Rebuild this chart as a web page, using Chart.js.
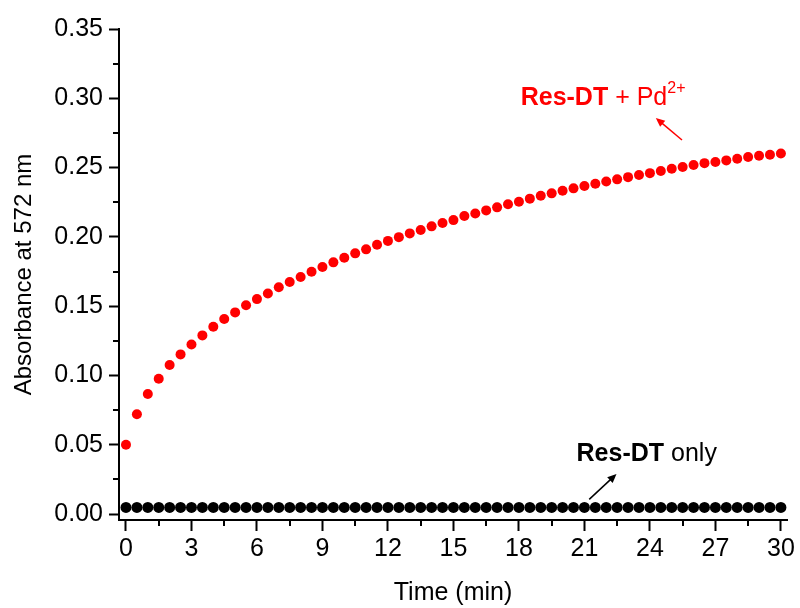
<!DOCTYPE html>
<html>
<head>
<meta charset="utf-8">
<script src="https://cdn.jsdelivr.net/npm/chart.js@4/dist/chart.umd.min.js"></script>
<style>
html,body{margin:0;padding:0;background:#fff;}
#wrap{width:800px;height:608px;position:relative;}
</style>
</head>
<body>
<div id="wrap"><canvas id="c" width="800" height="608"></canvas></div>
<script>
// ---- data ----
const timeMin = [0,0.5,1,1.5,2,2.5,3,3.5,4,4.5,5,5.5,6,6.5,7,7.5,8,8.5,9,9.5,10,10.5,11,11.5,12,12.5,13,13.5,14,14.5,15,15.5,16,16.5,17,17.5,18,18.5,19,19.5,20,20.5,21,21.5,22,22.5,23,23.5,24,24.5,25,25.5,26,26.5,27,27.5,28,28.5,29,29.5,30];
const resDtPd = [0.0500,0.0720,0.0866,0.0976,0.1075,0.1152,0.1224,0.1289,0.1351,0.1407,0.1455,0.1506,0.1551,0.1592,0.1636,0.1674,0.1710,0.1748,0.1782,0.1816,0.1849,0.1881,0.1910,0.1943,0.1971,0.1998,0.2025,0.2049,0.2076,0.2100,0.2121,0.2150,0.2169,0.2191,0.2213,0.2235,0.2254,0.2276,0.2297,0.2314,0.2333,0.2350,0.2367,0.2383,0.2400,0.2415,0.2431,0.2446,0.2460,0.2475,0.2491,0.2504,0.2518,0.2532,0.2540,0.2552,0.2564,0.2576,0.2585,0.2592,0.2602];
const resDtOnly = [0.0048,0.0048,0.0048,0.0048,0.0048,0.0048,0.0048,0.0048,0.0048,0.0048,0.0048,0.0048,0.0048,0.0048,0.0048,0.0048,0.0048,0.0048,0.0048,0.0048,0.0048,0.0048,0.0048,0.0048,0.0048,0.0048,0.0048,0.0048,0.0048,0.0048,0.0048,0.0048,0.0048,0.0048,0.0048,0.0048,0.0048,0.0048,0.0048,0.0048,0.0048,0.0048,0.0048,0.0048,0.0048,0.0048,0.0048,0.0048,0.0048,0.0048,0.0048,0.0048,0.0048,0.0048,0.0048,0.0048,0.0048,0.0048,0.0048,0.0048,0.0048];
const xMajorTicks = [0,3,6,9,12,15,18,21,24,27,30];
const xMinorTicks = [1.5,4.5,7.5,10.5,13.5,16.5,19.5,22.5,25.5,28.5];
const yMajorTicks = [0,0.05,0.10,0.15,0.20,0.25,0.30,0.35];
const yMinorTicks = [0.025,0.075,0.125,0.175,0.225,0.275,0.325];
const xTitle = 'Time (min)';
const yTitle = 'Absorbance at 572 nm';

const FONT = '"Liberation Sans", Arial, sans-serif';

function toXY(xs, ys){ return xs.map((x,i)=>({x:x, y:ys[i]})); }

const minorTicksPlugin = {
  id:'minorTicks',
  afterDraw(chart){
    const ctx = chart.ctx, xs = chart.scales.x, ys = chart.scales.y;
    const ca = chart.chartArea;
    ctx.save();
    ctx.strokeStyle = '#000'; ctx.lineWidth = 2;
    ctx.beginPath();
    xMinorTicks.forEach(v=>{ const px = Math.round(xs.getPixelForValue(v)); ctx.moveTo(px, ca.bottom); ctx.lineTo(px, ca.bottom+6); });
    yMinorTicks.forEach(v=>{ const py = Math.round(ys.getPixelForValue(v)); ctx.moveTo(ca.left, py); ctx.lineTo(ca.left-6, py); });
    ctx.stroke();
    ctx.restore();
  }
};

function arrow(ctx, x1,y1,x2,y2,color){
  const ang = Math.atan2(y2-y1, x2-x1);
  const hl = 9, hw = 4;
  ctx.save();
  ctx.strokeStyle = color; ctx.fillStyle = color; ctx.lineWidth = 1.5;
  ctx.beginPath(); ctx.moveTo(x1,y1); ctx.lineTo(x2 - hl*0.8*Math.cos(ang), y2 - hl*0.8*Math.sin(ang)); ctx.stroke();
  ctx.beginPath();
  ctx.moveTo(x2,y2);
  ctx.lineTo(x2 - hl*Math.cos(ang) + hw*Math.sin(ang), y2 - hl*Math.sin(ang) - hw*Math.cos(ang));
  ctx.lineTo(x2 - hl*Math.cos(ang) - hw*Math.sin(ang), y2 - hl*Math.sin(ang) + hw*Math.cos(ang));
  ctx.closePath(); ctx.fill();
  ctx.restore();
}

const annotationPlugin = {
  id:'annot',
  afterDraw(chart){
    const ctx = chart.ctx, xs = chart.scales.x, ys = chart.scales.y;
    ctx.save();
    ctx.textBaseline = 'alphabetic';
    // red label
    let x = xs.getPixelForValue(18.08), y = ys.getPixelForValue(0.2952);
    ctx.fillStyle = '#ff0000';
    ctx.font = 'bold 25px ' + FONT;
    ctx.fillText('Res-DT', x, y); x += ctx.measureText('Res-DT').width;
    ctx.font = '25px ' + FONT;
    ctx.fillText(' + Pd', x, y); x += ctx.measureText(' + Pd').width;
    ctx.font = '16px ' + FONT;
    ctx.fillText('2+', x, y-12);
    arrow(ctx, xs.getPixelForValue(25.47), ys.getPixelForValue(0.2699), xs.getPixelForValue(24.27), ys.getPixelForValue(0.2858), '#ff0000');
    // black label
    x = xs.getPixelForValue(20.64); y = ys.getPixelForValue(0.0385);
    ctx.fillStyle = '#000';
    ctx.font = 'bold 25px ' + FONT;
    ctx.fillText('Res-DT', x, y); x += ctx.measureText('Res-DT').width;
    ctx.font = '25px ' + FONT;
    ctx.fillText(' only', x, y);
    arrow(ctx, xs.getPixelForValue(21.22), ys.getPixelForValue(0.0106), xs.getPixelForValue(22.47), ys.getPixelForValue(0.0289), '#000');
    ctx.restore();
  }
};

new Chart(document.getElementById('c'), {
  type:'scatter',
  data:{
    datasets:[
      {label:'Res-DT + Pd2+', data: toXY(timeMin, resDtPd), backgroundColor:'#ff0000', borderWidth:0, pointRadius:5, pointHoverRadius:5},
      {label:'Res-DT only', data: toXY(timeMin, resDtOnly), backgroundColor:'#000000', borderWidth:0, pointRadius:5.5, pointHoverRadius:5.5}
    ]
  },
  options:{
    responsive:false,
    animation:false,
    layout:{padding:{left:0, right:13, top:29, bottom:0}},
    plugins:{legend:{display:false}, tooltip:{enabled:false}},
    scales:{
      x:{
        type:'linear', min:-0.32, max:30.28,
        afterBuildTicks(s){ s.ticks = xMajorTicks.map(v=>({value:v})); },
        afterFit(s){ s.height = 88; },
        ticks:{ color:'#000', font:{family:FONT, size:25}, padding:3, maxRotation:0, autoSkip:false,
          callback:(v)=>String(v) },
        grid:{ drawOnChartArea:false, drawTicks:true, tickLength:11, tickWidth:2, tickColor:'#000' },
        border:{ display:true, color:'#000', width:2 },
        title:{ display:true, text:xTitle, color:'#000', font:{family:FONT, size:25}, padding:{top:4, bottom:0} }
      },
      y:{
        type:'linear', min:-0.0043, max:0.35,
        afterBuildTicks(s){ s.ticks = yMajorTicks.map(v=>({value:v})); },
        afterFit(s){ s.width = 119; },
        ticks:{ color:'#000', font:{family:FONT, size:25}, padding:6, autoSkip:false,
          callback:(v)=>Number(v).toFixed(2) },
        grid:{ drawOnChartArea:false, drawTicks:true, tickLength:10, tickWidth:2, tickColor:'#000' },
        border:{ display:true, color:'#000', width:2 },
        title:{ display:true, text:yTitle, color:'#000', font:{family:FONT, size:24}, padding:{top:10, bottom:4} }
      }
    }
  },
  plugins:[minorTicksPlugin, annotationPlugin]
});
</script>
</body>
</html>
